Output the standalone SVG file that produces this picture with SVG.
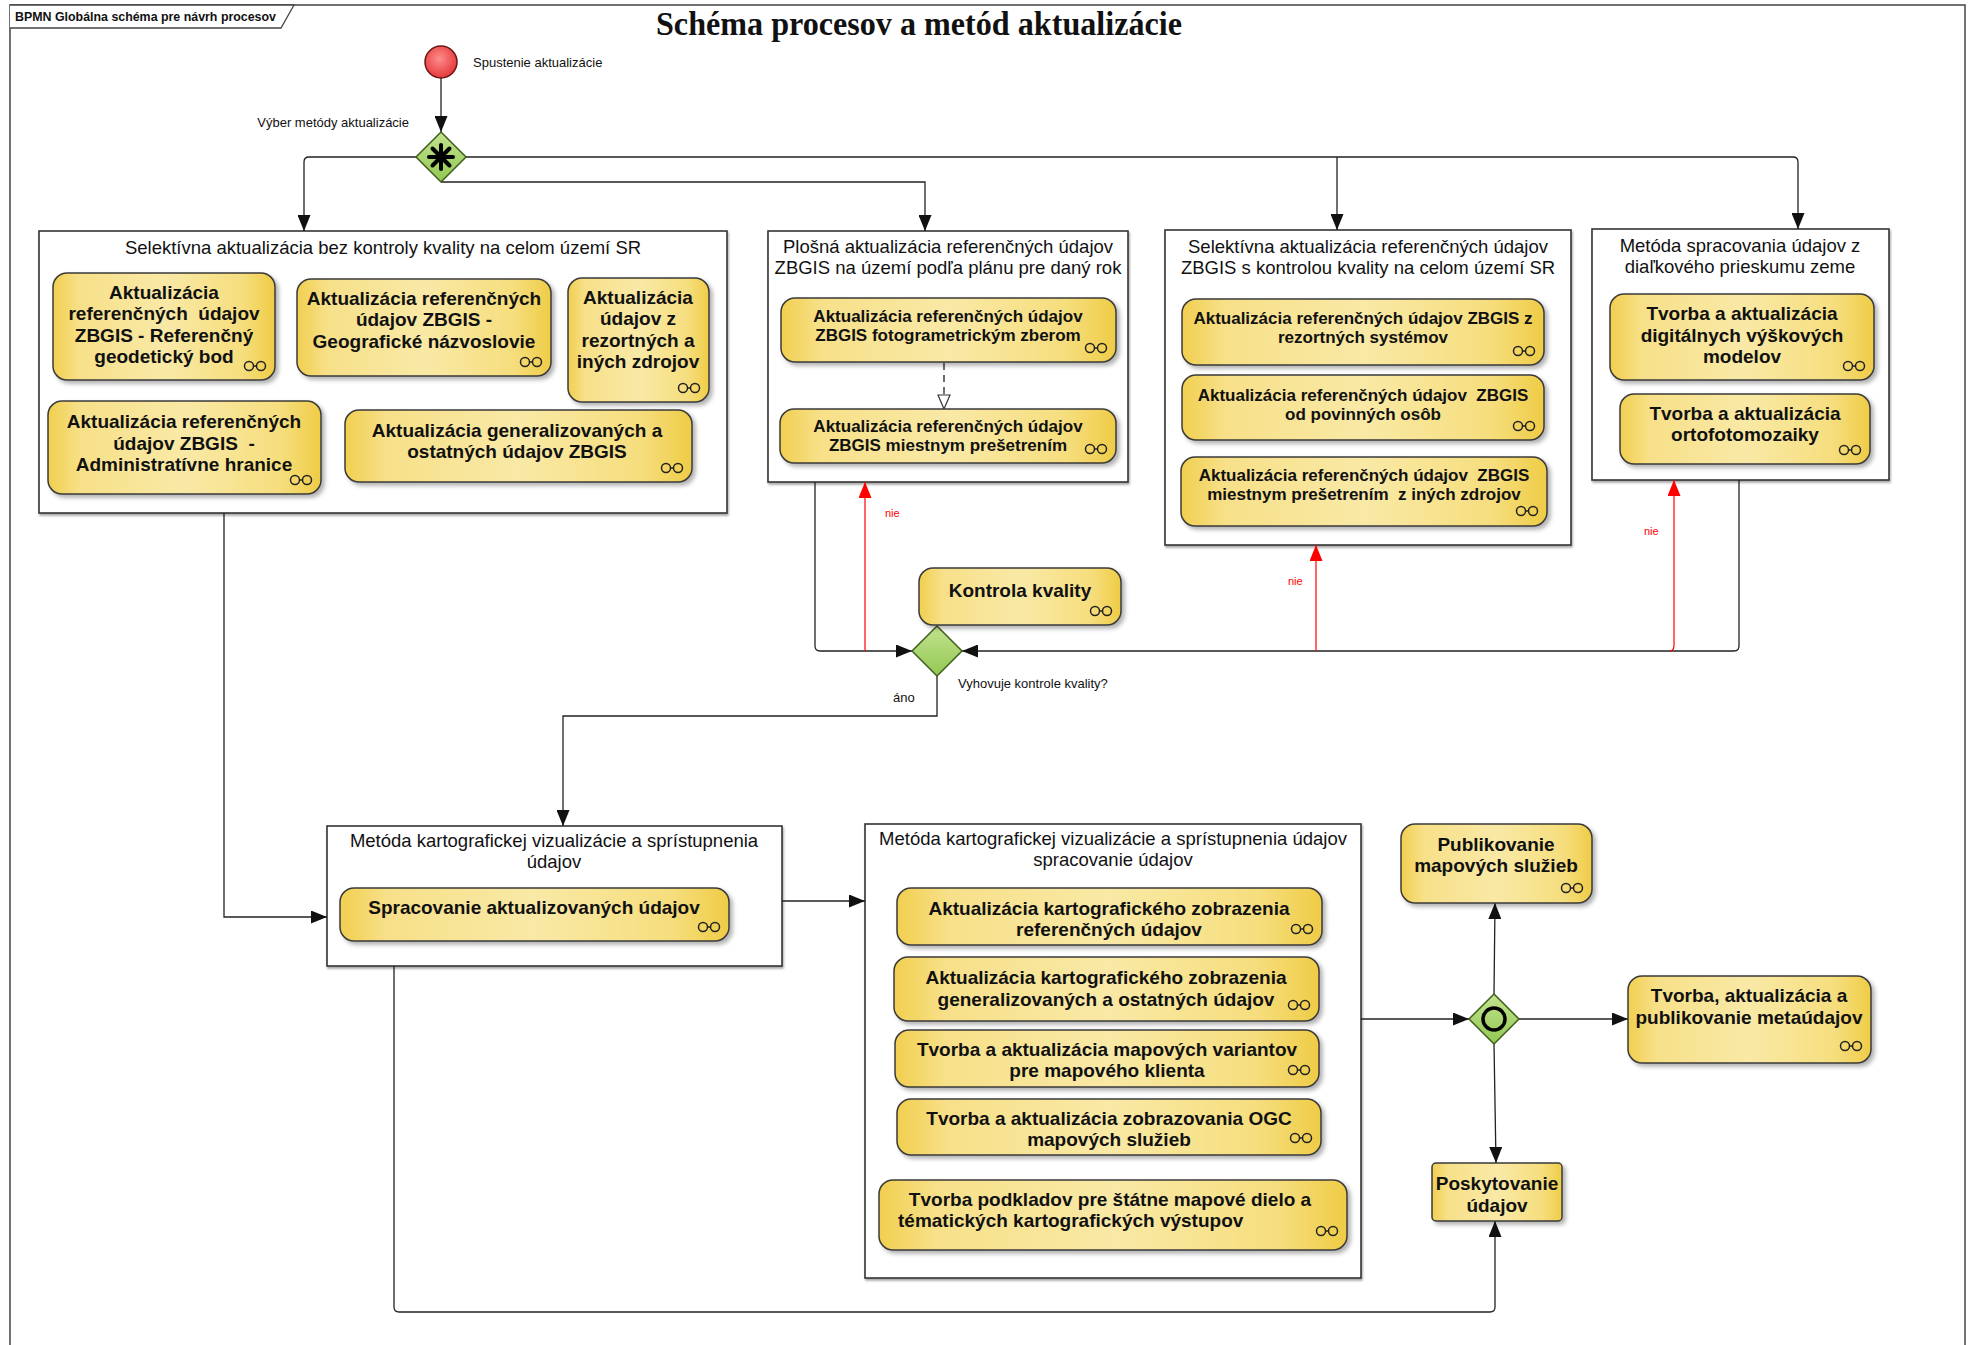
<svg xmlns="http://www.w3.org/2000/svg" xmlns:xlink="http://www.w3.org/1999/xlink" width="1972" height="1345" viewBox="0 0 1972 1345">
<style>
.frame{fill:#fff;stroke:#444;stroke-width:1.5}
.box{fill:#fff;stroke:#333;stroke-width:1.6;filter:url(#bs)}
.bt{font-family:"Liberation Sans",Arial,sans-serif;font-size:18.5px;fill:#111;text-anchor:middle}
.task rect{fill:url(#tg);stroke:#3a3a3a;stroke-width:1.5;filter:url(#sh)}
.tt{font-family:"Liberation Sans",Arial,sans-serif;font-weight:bold;font-size:19px;fill:#111;text-anchor:middle}
.t17{font-size:17px}
.lp{fill:none;stroke:#222;stroke-width:1.5}
.gw{fill:url(#gg);stroke:#3f5e1c;stroke-width:1.5}
.c{fill:none;stroke:#222;stroke-width:1.3}
.r{fill:none;stroke:#ff0000;stroke-width:1.2}
.lbl{font-family:"Liberation Sans",Arial,sans-serif;font-size:13px;fill:#111}
.nie{font-family:"Liberation Sans",Arial,sans-serif;font-size:11px;fill:#ff0000}
</style>
<defs>
<linearGradient id="tg" x1="0" y1="0" x2="1" y2="0">
<stop offset="0" stop-color="#f1cf4f"/><stop offset="0.12" stop-color="#f7e089"/><stop offset="0.5" stop-color="#f9e9a6"/><stop offset="0.85" stop-color="#f6de7e"/><stop offset="1" stop-color="#efcc46"/>
</linearGradient>
<linearGradient id="gg" x1="0" y1="0" x2="0" y2="1">
<stop offset="0" stop-color="#c3e38f"/><stop offset="1" stop-color="#92c853"/>
</linearGradient>
<radialGradient id="rg" cx="0.45" cy="0.4" r="0.6">
<stop offset="0" stop-color="#ff8c8c"/><stop offset="1" stop-color="#e43a3a"/>
</radialGradient>
<filter id="sh" x="-10%" y="-10%" width="125%" height="130%">
<feDropShadow dx="3" dy="3" stdDeviation="2" flood-color="#000" flood-opacity="0.3"/>
</filter>
<filter id="bs" x="-5%" y="-5%" width="110%" height="110%">
<feDropShadow dx="1" dy="2" stdDeviation="1" flood-color="#000" flood-opacity="0.35"/>
</filter>
<marker id="ab" markerUnits="userSpaceOnUse" markerWidth="16" markerHeight="13" refX="16" refY="6.5" orient="auto">
<path d="M0,0 L16,6.5 L0,13 z" fill="#111"/>
</marker>
<marker id="ar" markerUnits="userSpaceOnUse" markerWidth="16" markerHeight="13" refX="16" refY="6.5" orient="auto">
<path d="M0,0 L16,6.5 L0,13 z" fill="#ff0000"/>
</marker>
<marker id="ao" markerUnits="userSpaceOnUse" markerWidth="17" markerHeight="15" refX="15" refY="7" orient="auto">
<path d="M1,1 L15,7 L1,13 z" fill="#fff" stroke="#333" stroke-width="1.2"/>
</marker>
<g id="lp" class="lp"><circle cx="-6" cy="0" r="4.5"/><circle cx="6" cy="0" r="4.5"/><line x1="-1.5" y1="0" x2="1.5" y2="0"/></g>
</defs>

<rect width="1972" height="1345" fill="#fff"/>
<g id="frame">
<rect class="frame" x="10" y="5" width="1955" height="1360"/>
<path d="M10,5 L294,5 L281,28 L10,28" fill="#fff" stroke="#444" stroke-width="1.3"/>
<text x="15" y="21" font-family="Liberation Sans,Arial,sans-serif" font-weight="bold" font-size="12.4" fill="#111">BPMN Globálna schéma pre návrh procesov</text>
<text x="919" y="35" font-family="Liberation Serif,'Times New Roman',serif" font-weight="bold" font-size="33" text-anchor="middle" textLength="526" lengthAdjust="spacingAndGlyphs" fill="#111">Schéma procesov a metód aktualizácie</text>
</g>

<!-- containers -->
<g id="box1"><rect class="box" x="39" y="231" width="688" height="282"/><text class="bt" x="383" y="254">Selektívna aktualizácia bez kontroly kvality na celom území SR</text></g>
<g id="box2"><rect class="box" x="768" y="231" width="360" height="251"/><text class="bt"><tspan x="948" y="253">Plošná aktualizácia referenčných údajov</tspan><tspan x="948" y="274">ZBGIS na území podľa plánu pre daný rok</tspan></text></g>
<g id="box3"><rect class="box" x="1165" y="230" width="406" height="315"/><text class="bt"><tspan x="1368" y="253">Selektívna aktualizácia referenčných údajov</tspan><tspan x="1368" y="274">ZBGIS s kontrolou kvality na celom území SR</tspan></text></g>
<g id="box4"><rect class="box" x="1592" y="229" width="297" height="251"/><text class="bt"><tspan x="1740" y="252">Metóda spracovania údajov z</tspan><tspan x="1740" y="273">diaľkového prieskumu zeme</tspan></text></g>
<g id="box5"><rect class="box" x="327" y="826" width="455" height="140"/><text class="bt"><tspan x="554" y="847">Metóda kartografickej vizualizácie a sprístupnenia</tspan><tspan x="554" y="868">údajov</tspan></text></g>
<g id="box6"><rect class="box" x="865" y="824" width="496" height="454"/><text class="bt"><tspan x="1113" y="845">Metóda kartografickej vizualizácie a sprístupnenia údajov</tspan><tspan x="1113" y="866">spracovanie údajov</tspan></text></g>

<!-- connectors -->
<g id="connectors">
<path class="c" d="M441,78 L441,132" marker-end="url(#ab)"/>
<path class="c" d="M416,157 L309,157 Q304,157 304,162 L304,231" marker-end="url(#ab)"/>
<path class="c" d="M466,157 L1793,157 Q1798,157 1798,162 L1798,229" marker-end="url(#ab)"/>
<path class="c" d="M1337,157 L1337,230" marker-end="url(#ab)"/>
<path class="c" d="M441,182 L925,182 L925,231" marker-end="url(#ab)"/>
<path class="c" d="M944,363 L944,409" stroke-dasharray="7,5" marker-end="url(#ao)"/>
<path class="c" d="M815,482 L815,646 Q815,651 820,651 L912,651" marker-end="url(#ab)"/>
<path class="c" d="M1739,480 L1739,646 Q1739,651 1734,651 L962,651" marker-end="url(#ab)"/>
<path class="r" d="M865,651 L865,482" marker-end="url(#ar)"/>
<path class="r" d="M1316,651 L1316,545" marker-end="url(#ar)"/>
<path class="r" d="M1670,651 Q1674,651 1674,645 L1674,480" marker-end="url(#ar)"/>
<path class="c" d="M937,676 L937,716 L563,716 L563,826" marker-end="url(#ab)"/>
<path class="c" d="M224,513 L224,917 L327,917" marker-end="url(#ab)"/>
<path class="c" d="M782,901 L865,901" marker-end="url(#ab)"/>
<path class="c" d="M1361,1019 L1469,1019" marker-end="url(#ab)"/>
<path class="c" d="M1494,994 L1495,903" marker-end="url(#ab)"/>
<path class="c" d="M1519,1019 L1628,1019" marker-end="url(#ab)"/>
<path class="c" d="M1494,1044 L1496,1163" marker-end="url(#ab)"/>
<path class="c" d="M394,966 L394,1307 Q394,1312 399,1312 L1490,1312 Q1495,1312 1495,1307 L1495,1221" marker-end="url(#ab)"/>
<text class="nie" x="885" y="517">nie</text>
<text class="nie" x="1288" y="585">nie</text>
<text class="nie" x="1644" y="535">nie</text>
<text class="lbl" x="893" y="702" font-size="12">áno</text>
<text class="lbl" x="958" y="688">Vyhovuje kontrole kvality?</text>
<text class="lbl" x="409" y="127" text-anchor="end">Výber metódy aktualizácie</text>
</g>

<!-- events & gateways -->
<g id="start"><circle cx="441" cy="62" r="16" fill="url(#rg)" stroke="#6b1515" stroke-width="1.5"/><text class="lbl" x="473" y="67">Spustenie aktualizácie</text></g>
<g id="gw1"><polygon class="gw" points="441,132 466,157 441,182 416,157"/>
<g stroke="#000" stroke-width="4" stroke-linecap="round"><line x1="441" y1="145" x2="441" y2="169"/><line x1="429" y1="157" x2="453" y2="157"/><line x1="432.5" y1="148.5" x2="449.5" y2="165.5"/><line x1="449.5" y1="148.5" x2="432.5" y2="165.5"/></g></g>
<g id="gw2"><polygon class="gw" points="937,626 962,651 937,676 912,651"/></g>
<g id="gw3"><polygon class="gw" points="1494,994 1519,1019 1494,1044 1469,1019"/><circle cx="1494" cy="1019" r="11" fill="none" stroke="#000" stroke-width="3.5"/></g>

<!-- tasks -->
<g id="t1" class="task"><rect x="53" y="273" width="222" height="107" rx="14"/><text class="tt"><tspan x="164" y="299">Aktualizácia</tspan><tspan x="164" y="320">referenčných&#160; údajov</tspan><tspan x="164" y="342">ZBGIS - Referenčný</tspan><tspan x="164" y="363">geodetický bod</tspan></text><use href="#lp" x="255" y="366"/></g>
<g id="t2" class="task"><rect x="297" y="279" width="254" height="97" rx="14"/><text class="tt"><tspan x="424" y="305">Aktualizácia referenčných</tspan><tspan x="424" y="326">údajov ZBGIS -</tspan><tspan x="424" y="348">Geografické názvoslovie</tspan></text><use href="#lp" x="531" y="362"/></g>
<g id="t3" class="task"><rect x="568" y="278" width="141" height="124" rx="14"/><text class="tt"><tspan x="638" y="304">Aktualizácia</tspan><tspan x="638" y="325">údajov z</tspan><tspan x="638" y="347">rezortných a</tspan><tspan x="638" y="368">iných zdrojov</tspan></text><use href="#lp" x="689" y="388"/></g>
<g id="t4" class="task"><rect x="48" y="401" width="273" height="93" rx="14"/><text class="tt"><tspan x="184" y="428">Aktualizácia referenčných</tspan><tspan x="184" y="450">údajov ZBGIS&#160; -</tspan><tspan x="184" y="471">Administratívne hranice</tspan></text><use href="#lp" x="301" y="480"/></g>
<g id="t5" class="task"><rect x="345" y="410" width="347" height="72" rx="14"/><text class="tt"><tspan x="517" y="437">Aktualizácia generalizovaných a</tspan><tspan x="517" y="458">ostatných údajov ZBGIS</tspan></text><use href="#lp" x="672" y="468"/></g>
<g id="t6" class="task"><rect x="781" y="298" width="335" height="64" rx="14"/><text class="tt t17"><tspan x="948" y="322">Aktualizácia referenčných údajov</tspan><tspan x="948" y="341">ZBGIS fotogrametrickým zberom</tspan></text><use href="#lp" x="1096" y="348"/></g>
<g id="t7" class="task"><rect x="780" y="409" width="336" height="54" rx="14"/><text class="tt t17"><tspan x="948" y="432">Aktualizácia referenčných údajov</tspan><tspan x="948" y="451">ZBGIS miestnym prešetrením</tspan></text><use href="#lp" x="1096" y="449"/></g>
<g id="t8" class="task"><rect x="1182" y="299" width="362" height="66" rx="14"/><text class="tt t17"><tspan x="1363" y="324">Aktualizácia referenčných údajov ZBGIS z</tspan><tspan x="1363" y="343">rezortných systémov</tspan></text><use href="#lp" x="1524" y="351"/></g>
<g id="t9" class="task"><rect x="1182" y="375" width="362" height="65" rx="14"/><text class="tt t17"><tspan x="1363" y="401">Aktualizácia referenčných údajov&#160; ZBGIS</tspan><tspan x="1363" y="420">od povinných osôb</tspan></text><use href="#lp" x="1524" y="426"/></g>
<g id="t10" class="task"><rect x="1181" y="457" width="366" height="69" rx="14"/><text class="tt t17"><tspan x="1364" y="481">Aktualizácia referenčných údajov&#160; ZBGIS</tspan><tspan x="1364" y="500">miestnym prešetrením&#160; z iných zdrojov</tspan></text><use href="#lp" x="1527" y="511"/></g>
<g id="t11" class="task"><rect x="1610" y="294" width="264" height="86" rx="14"/><text class="tt"><tspan x="1742" y="320">Tvorba a aktualizácia</tspan><tspan x="1742" y="342">digitálnych výškových</tspan><tspan x="1742" y="363">modelov</tspan></text><use href="#lp" x="1854" y="366"/></g>
<g id="t12" class="task"><rect x="1620" y="394" width="250" height="70" rx="14"/><text class="tt"><tspan x="1745" y="420">Tvorba a aktualizácia</tspan><tspan x="1745" y="441">ortofotomozaiky</tspan></text><use href="#lp" x="1850" y="450"/></g>
<g id="kontrola" class="task"><rect x="919" y="568" width="202" height="57" rx="14"/><text class="tt" x="1020" y="597">Kontrola kvality</text><use href="#lp" x="1101" y="611"/></g>
<g id="t13" class="task"><rect x="340" y="888" width="389" height="53" rx="14"/><text class="tt" x="534" y="914">Spracovanie aktualizovaných údajov</text><use href="#lp" x="709" y="927"/></g>
<g id="t14" class="task"><rect x="897" y="888" width="425" height="57" rx="14"/><text class="tt"><tspan x="1109" y="915">Aktualizácia kartografického zobrazenia</tspan><tspan x="1109" y="936">referenčných údajov</tspan></text><use href="#lp" x="1302" y="929"/></g>
<g id="t15" class="task"><rect x="894" y="957" width="425" height="64" rx="14"/><text class="tt"><tspan x="1106" y="984">Aktualizácia kartografického zobrazenia</tspan><tspan x="1106" y="1006">generalizovaných a ostatných údajov</tspan></text><use href="#lp" x="1299" y="1005"/></g>
<g id="t16" class="task"><rect x="895" y="1030" width="424" height="57" rx="14"/><text class="tt"><tspan x="1107" y="1056">Tvorba a aktualizácia mapových variantov</tspan><tspan x="1107" y="1077">pre mapového klienta</tspan></text><use href="#lp" x="1299" y="1070"/></g>
<g id="t17" class="task"><rect x="897" y="1099" width="424" height="56" rx="14"/><text class="tt"><tspan x="1109" y="1125">Tvorba a aktualizácia zobrazovania OGC</tspan><tspan x="1109" y="1146">mapových služieb</tspan></text><use href="#lp" x="1301" y="1138"/></g>
<g id="t18" class="task"><rect x="879" y="1180" width="468" height="70" rx="14"/><text class="tt"><tspan x="1110" y="1206">Tvorba podkladov pre štátne mapové dielo a</tspan><tspan x="898" y="1227" text-anchor="start">tématických kartografických výstupov</tspan></text><use href="#lp" x="1327" y="1231"/></g>
<g id="publ" class="task"><rect x="1401" y="824" width="191" height="79" rx="14"/><text class="tt"><tspan x="1496" y="851">Publikovanie</tspan><tspan x="1496" y="872">mapových služieb</tspan></text><use href="#lp" x="1572" y="888"/></g>
<g id="meta" class="task"><rect x="1628" y="976" width="243" height="87" rx="14"/><text class="tt"><tspan x="1749" y="1002">Tvorba, aktualizácia a</tspan><tspan x="1749" y="1024">publikovanie metaúdajov</tspan></text><use href="#lp" x="1851" y="1046"/></g>
<g id="posk" class="task"><rect x="1432" y="1163" width="130" height="58" rx="4"/><text class="tt"><tspan x="1497" y="1190">Poskytovanie</tspan><tspan x="1497" y="1212">údajov</tspan></text></g>
</svg>
